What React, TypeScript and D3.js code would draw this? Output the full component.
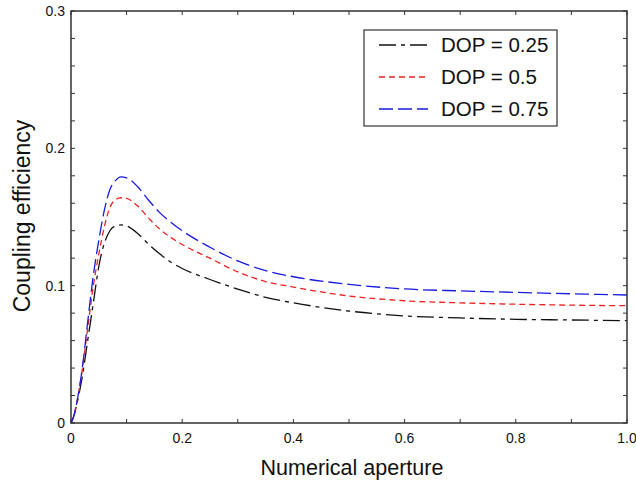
import React from "react";
import * as d3 from "d3";

const naValues = [0, 0.005, 0.01, 0.02, 0.03, 0.04, 0.05, 0.06, 0.07, 0.08, 0.09, 0.1, 0.12, 0.14, 0.16, 0.18, 0.2, 0.25, 0.3, 0.35, 0.4, 0.5, 0.6, 0.7, 0.8, 0.9, 1.0];
const dop025 = [0, 0.005, 0.013, 0.033, 0.06, 0.087, 0.114, 0.131, 0.14, 0.1435, 0.1442, 0.1435, 0.138, 0.13, 0.123, 0.117, 0.1125, 0.1045, 0.0975, 0.0915, 0.0875, 0.0815, 0.078, 0.0765, 0.0755, 0.075, 0.0745];
const dop05 = [0, 0.005, 0.014, 0.038, 0.069, 0.0995, 0.123, 0.143, 0.157, 0.1625, 0.164, 0.1635, 0.158, 0.149, 0.141, 0.135, 0.13, 0.12, 0.11, 0.103, 0.099, 0.0925, 0.089, 0.0875, 0.0865, 0.0858, 0.0854];
const dop075 = [0, 0.005, 0.014, 0.039, 0.0735, 0.107, 0.133, 0.155, 0.17, 0.1765, 0.1792, 0.1785, 0.172, 0.162, 0.153, 0.146, 0.14, 0.128, 0.118, 0.111, 0.1065, 0.101, 0.0976, 0.0962, 0.0951, 0.0941, 0.0932];
const seriesNames = ["DOP = 0.25", "DOP = 0.5", "DOP = 0.75"];
const xTickLabels = ["0", "0.2", "0.4", "0.6", "0.8", "1.0"];
const yTickLabels = ["0", "0.1", "0.2", "0.3"];

const W = 636, H = 485;
const L = 71, R = 627, T = 11, B = 423;
const FONT = "'Liberation Sans', Arial, sans-serif";

export default function App() {
  const x = d3.scaleLinear().domain([0, 1]).range([L, R]);
  const y = d3.scaleLinear().domain([0, 0.3]).range([B, T]);
  const line = d3.line<number>().x((_, i) => x(naValues[i])).y((d) => y(d)).curve(d3.curveMonotoneX);
  const series = [
    { name: seriesNames[0], vals: dop025, color: "#111111", dash: "17,5,4,5" },
    { name: seriesNames[1], vals: dop05, color: "#ee2020", dash: "6,4" },
    { name: seriesNames[2], vals: dop075, color: "#1a1ae0", dash: "14,5" },
  ];
  const xMinor = d3.range(0, 1.0001, 0.1);
  const yMinor = d3.range(0, 0.30001, 0.02);
  const axisColor = "#333";
  const tick = 4;
  return (
    <svg width={W} height={H} style={{ position: "absolute", left: 0, top: 0, background: "#fff" }}>
      <rect x={0} y={0} width={W} height={H} fill="#fff" />
      {series.map((s) => (
        <path key={s.name} d={line(s.vals) || ""} fill="none" stroke={s.color} strokeWidth={1.3} strokeDasharray={s.dash} />
      ))}
      <rect x={L} y={T} width={R - L} height={B - T} fill="none" stroke={axisColor} strokeWidth={1.5} />
      {xMinor.map((v, i) => (
        <g key={"xt" + i}>
          <line x1={x(v)} x2={x(v)} y1={B} y2={B - tick} stroke={axisColor} strokeWidth={1} />
          <line x1={x(v)} x2={x(v)} y1={T} y2={T + tick} stroke={axisColor} strokeWidth={1} />
        </g>
      ))}
      {yMinor.map((v, i) => (
        <g key={"yt" + i}>
          <line x1={L} x2={L + tick} y1={y(v)} y2={y(v)} stroke={axisColor} strokeWidth={1} />
          <line x1={R} x2={R - tick} y1={y(v)} y2={y(v)} stroke={axisColor} strokeWidth={1} />
        </g>
      ))}
      {xTickLabels.map((t) => (
        <text key={"xl" + t} x={x(+t)} y={B + 20} textAnchor="middle" fontFamily={FONT} fontSize={14} fill="#111">{t}</text>
      ))}
      {yTickLabels.map((t) => (
        <text key={"yl" + t} x={L - 6} y={y(+t) + 5} textAnchor="end" fontFamily={FONT} fontSize={14} fill="#111">{t}</text>
      ))}
      <text x={(L + R) / 2 + 3} y={475} textAnchor="middle" fontFamily={FONT} fontSize={21.5} fill="#111">Numerical aperture</text>
      <text transform={`translate(30,216) rotate(-90)`} textAnchor="middle" fontFamily={FONT} fontSize={23} fill="#111">Coupling efficiency</text>
      <rect x={364} y={30} width={193} height={96} fill="#fff" stroke={axisColor} strokeWidth={1.2} />
      {series.map((s, i) => (
        <g key={"lg" + i}>
          <line x1={379} x2={428} y1={45 + i * 32} y2={45 + i * 32} stroke={s.color} strokeWidth={1.3} strokeDasharray={s.dash} />
          <text x={441} y={45 + i * 32 + 7} fontFamily={FONT} fontSize={20.5} fill="#111">{s.name}</text>
        </g>
      ))}
    </svg>
  );
}
